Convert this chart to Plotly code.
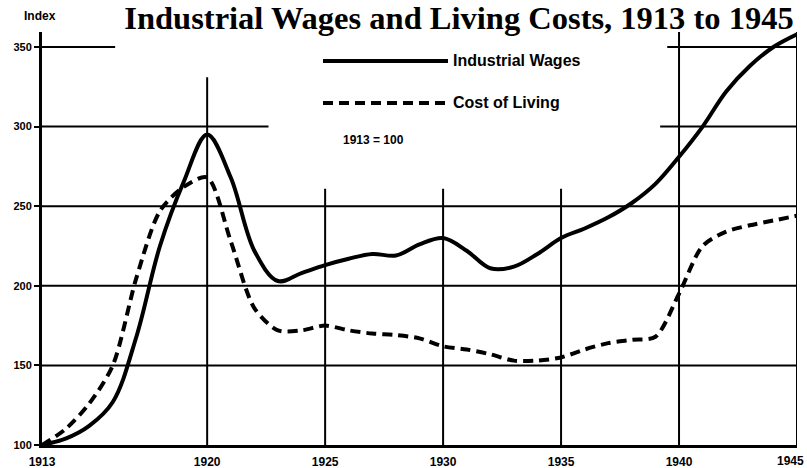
import plotly.graph_objects as go

years = list(range(1913, 1946))
wages = [100, 104, 112, 127, 168, 225, 265, 295, 268, 222, 203, 208, 213, 217, 220, 219, 226, 230,
         222, 211, 212, 220, 230, 236, 243, 252, 264, 281, 300, 322, 338, 350, 358]
living = [100, 110, 126, 150, 205, 247, 262, 268, 228, 186, 172, 172, 175, 172, 170, 169, 167, 162,
          160, 157, 153, 153, 155, 160, 164, 166, 168, 195, 225, 234, 238, 241, 244]

x_ticks = [1913, 1920, 1925, 1930, 1935, 1940, 1945]
y_ticks = [100, 150, 200, 250, 300, 350]

# grid segments (x0, x1, y) and (x, y0, y1) -- broken around the legend as in the original
h_grid = [(1913, 1916.1, 350), (1939.5, 1945, 350), (1913, 1922.6, 300), (1939.2, 1945, 300),
          (1913, 1945, 250), (1913, 1945, 200), (1913, 1945, 150)]
v_grid = [(1920, 100, 331), (1925, 100, 261), (1930, 100, 261), (1935, 100, 261),
          (1940, 100, 359.4), (1945, 100, 359.4)]

LBL = "Liberation Sans Narrow, Arial Narrow, Liberation Sans, Arial, sans-serif"

L, R, T, B = 42, 10, 32, 23
PW, PH = 807 - L - R, 468 - T - B


def px(x):
    return (x - L) / PW


def py(y):
    return (468 - B - y) / PH


fig = go.Figure()
fig.add_trace(go.Scatter(x=years, y=wages, mode="lines", name="Industrial Wages",
                         line=dict(color="black", width=4, shape="spline", smoothing=1.0)))
fig.add_trace(go.Scatter(x=years, y=living, mode="lines", name="Cost of Living",
                         line=dict(color="black", width=4, shape="spline", smoothing=0.8, dash="10px,6px")))

shapes = []
for x0, x1, y in h_grid:
    shapes.append(dict(type="line", xref="x", yref="y", x0=x0, x1=x1, y0=y, y1=y,
                       line=dict(color="black", width=2), layer="below"))
for x, y0, y1 in v_grid:
    shapes.append(dict(type="line", xref="x", yref="y", x0=x, x1=x, y0=y0, y1=y1,
                       line=dict(color="black", width=2), layer="below"))
# legend samples
shapes.append(dict(type="line", xref="paper", yref="paper", x0=px(323), x1=px(448),
                   y0=py(61), y1=py(61), line=dict(color="black", width=4)))
shapes.append(dict(type="line", xref="paper", yref="paper", x0=px(323), x1=px(448),
                   y0=py(103), y1=py(103), line=dict(color="black", width=4, dash="10px,6px")))

annotations = [
    dict(text="<b>Index</b>", xref="paper", yref="paper", x=px(22), y=py(16),
         xanchor="left", yanchor="middle", showarrow=False, font=dict(family=LBL, size=12, color="black")),
    dict(text="<b>Industrial Wages</b>", xref="paper", yref="paper", x=px(451), y=py(60),
         xanchor="left", yanchor="middle", showarrow=False, font=dict(family=LBL, size=16, color="black")),
    dict(text="<b>Cost of Living</b>", xref="paper", yref="paper", x=px(451), y=py(102),
         xanchor="left", yanchor="middle", showarrow=False, font=dict(family=LBL, size=16, color="black")),
    dict(text="<b>1913 = 100</b>", xref="paper", yref="paper", x=px(341), y=py(140),
         xanchor="left", yanchor="middle", showarrow=False, font=dict(family=LBL, size=12, color="black")),
    dict(text="<b>1945</b>", xref="paper", yref="paper", x=px(806), y=py(461),
         xanchor="right", yanchor="middle", showarrow=False, font=dict(family=LBL, size=12, color="black")),
]

fig.update_layout(
    width=807, height=468,
    margin=dict(l=L, r=R, t=T, b=B),
    paper_bgcolor="white", plot_bgcolor="white",
    showlegend=False,
    title=dict(text="<b>Industrial Wages and Living Costs, 1913 to 1945</b>",
               x=459 / 807, xanchor="center", y=1 - 6 / 468, yanchor="top",
               font=dict(family="Liberation Serif, Times New Roman, serif", size=32.5, color="black")),
    xaxis=dict(range=[1913, 1945], tickvals=x_ticks[:-1], ticktext=[f"<b>{t}</b>" for t in x_ticks[:-1]],
               showgrid=False, zeroline=False, showline=True, linecolor="black", linewidth=3,
               automargin=False, ticks="", ticklabelstandoff=4,
               tickfont=dict(family=LBL, size=12, color="black")),
    yaxis=dict(range=[100, 359.4], tickvals=y_ticks, ticktext=[f"<b>{t}</b>" for t in y_ticks],
               showgrid=False, zeroline=False, showline=True, linecolor="black", linewidth=3,
               automargin=False, ticks="outside", ticklen=5, tickwidth=2, tickcolor="black",
               tickfont=dict(family=LBL, size=11, color="black")),
    shapes=shapes, annotations=annotations,
)

fig.write_html("out.html", config={"displayModeBar": False},
               post_script="document.body.style.margin='0';document.body.style.overflow='hidden';")
